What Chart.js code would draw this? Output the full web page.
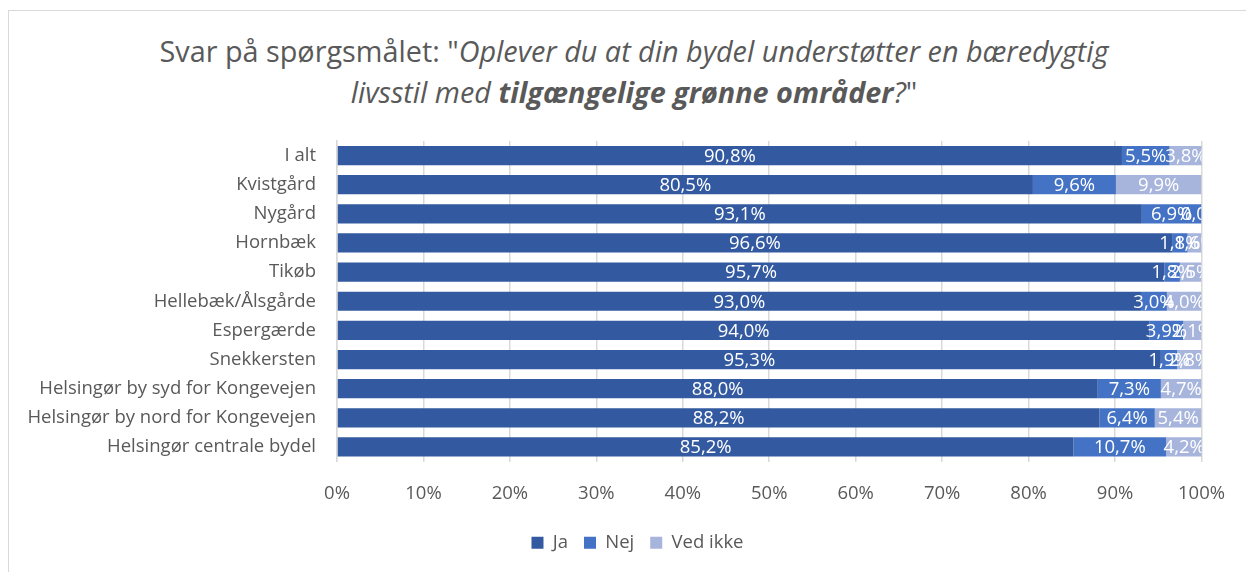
<!DOCTYPE html>
<html>
<head>
<meta charset="utf-8">
<script src="https://cdn.jsdelivr.net/npm/chart.js@4"></script>
<style>
  html, body { margin: 0; padding: 0; background: #fff; }
  #wrap { position: relative; width: 1246px; height: 572px; overflow: hidden; }
  #frame { position: absolute; left: 8px; top: 10px; width: 1260px; height: 600px; border: 1.5px solid #d9d9d9; box-sizing: border-box; }
  #title {
    position: absolute; left: 84px; width: 1100px; top: 30px;
    text-align: center; font-family: "Open Sans", sans-serif; font-size: 28.8px;
    line-height: 41px; color: #595959;
  }
  canvas { position: absolute; left: 0; top: 0; }
</style>
</head>
<body>
<div id="wrap">
  <div id="frame"></div>
  <div id="title">Svar på spørgsmålet: "<i>Oplever du at din bydel understøtter en bæredygtig</i><br><i>livsstil med <b>tilgængelige grønne områder</b>?</i>"</div>
  <canvas id="chart" width="1246" height="572"></canvas>
</div>
<script>
// Kategorier og svar (procent)
const categories = [
  "I alt", "Kvistgård", "Nygård", "Hornbæk", "Tikøb", "Hellebæk/Ålsgårde",
  "Espergærde", "Snekkersten", "Helsingør by syd for Kongevejen",
  "Helsingør by nord for Kongevejen", "Helsingør centrale bydel"
]
const ja      = [90.8, 80.5, 93.1, 96.6, 95.7, 93.0, 94.0, 95.3, 88.0, 88.2, 85.2]
const nej     = [5.5, 9.6, 6.9, 1.8, 1.8, 3.0, 3.9, 1.9, 7.3, 6.4, 10.7]
const vedIkke = [3.8, 9.9, 0.0, 1.6, 2.5, 4.0, 2.1, 2.8, 4.7, 5.4, 4.2]
const xTicks  = [0, 10, 20, 30, 40, 50, 60, 70, 80, 90, 100]

const textColor = "#595959"
const fontFamily = '"Open Sans", sans-serif'
const fontSize = 18.5

// Tekst midt i hvert segment (som Excel's dataetiketter)
const segmentLabels = {
  id: "segmentLabels",
  afterDatasetsDraw(chart) {
    const ctx = chart.ctx
    const area = chart.chartArea
    ctx.save()
    ctx.beginPath()
    ctx.rect(area.left, area.top, area.right - area.left, area.bottom - area.top)
    ctx.clip()
    ctx.fillStyle = "#ffffff"
    ctx.font = `${fontSize}px ${fontFamily}`
    ctx.textAlign = "center"
    ctx.textBaseline = "middle"
    chart.data.datasets.forEach((ds, i) => {
      const meta = chart.getDatasetMeta(i)
      meta.data.forEach((bar, j) => {
        const { x, y, base } = bar.getProps(["x", "y", "base"], true)
        const txt = ds.data[j].toFixed(1).replace(".", ",") + "%"
        ctx.fillText(txt, (x + base) / 2, y + 1)
      })
    })
    ctx.restore()
  }
}

// Forklaringen står lidt til højre for midten, som i Excel
const shiftLegend = {
  id: "shiftLegend",
  afterLayout(chart) {
    if (!chart.legend) return
    chart.legend.left += 36
    chart.legend.right += 36
  }
}

new Chart(document.getElementById("chart"), {
  type: "bar",
  data: {
    labels: categories,
    datasets: [
      { label: "Ja", data: ja, backgroundColor: "#335aa1" },
      { label: "Nej", data: nej, backgroundColor: "#4472c4" },
      { label: "Ved ikke", data: vedIkke, backgroundColor: "#a7b4dc" }
    ]
  },
  options: {
    indexAxis: "y",
    responsive: false,
    animation: false,
    layout: { padding: { top: 141, right: 43, left: 0, bottom: 10 } },
    datasets: { bar: { categoryPercentage: 0.66, barPercentage: 1.0 } },
    scales: {
      x: {
        stacked: true,
        min: 0,
        max: 100,
        afterBuildTicks: (scale) => { scale.ticks = xTicks.map(v => ({ value: v })) },
        afterFit: (scale) => { scale.height = 56 },
        grid: { color: "#d9d9d9", drawTicks: false, lineWidth: 1.5 },
        border: { display: false },
        ticks: {
          color: textColor,
          font: { family: fontFamily, size: fontSize },
          padding: 21,
          callback: (v) => v + "%"
        }
      },
      y: {
        stacked: true,
        afterFit: (scale) => { scale.width = 337 },
        grid: { display: false, drawTicks: false },
        border: { color: "#d9d9d9", width: 1.5 },
        ticks: {
          color: textColor,
          font: { family: fontFamily, size: fontSize },
          padding: 21
        }
      }
    },
    plugins: {
      title: { display: false },
      tooltip: { enabled: false },
      legend: {
        position: "bottom",
        labels: {
          color: textColor,
          font: { family: fontFamily, size: fontSize },
          boxWidth: 12,
          boxHeight: 12,
          padding: 16
        }
      }
    }
  },
  plugins: [segmentLabels, shiftLegend]
})
</script>
</body>
</html>
